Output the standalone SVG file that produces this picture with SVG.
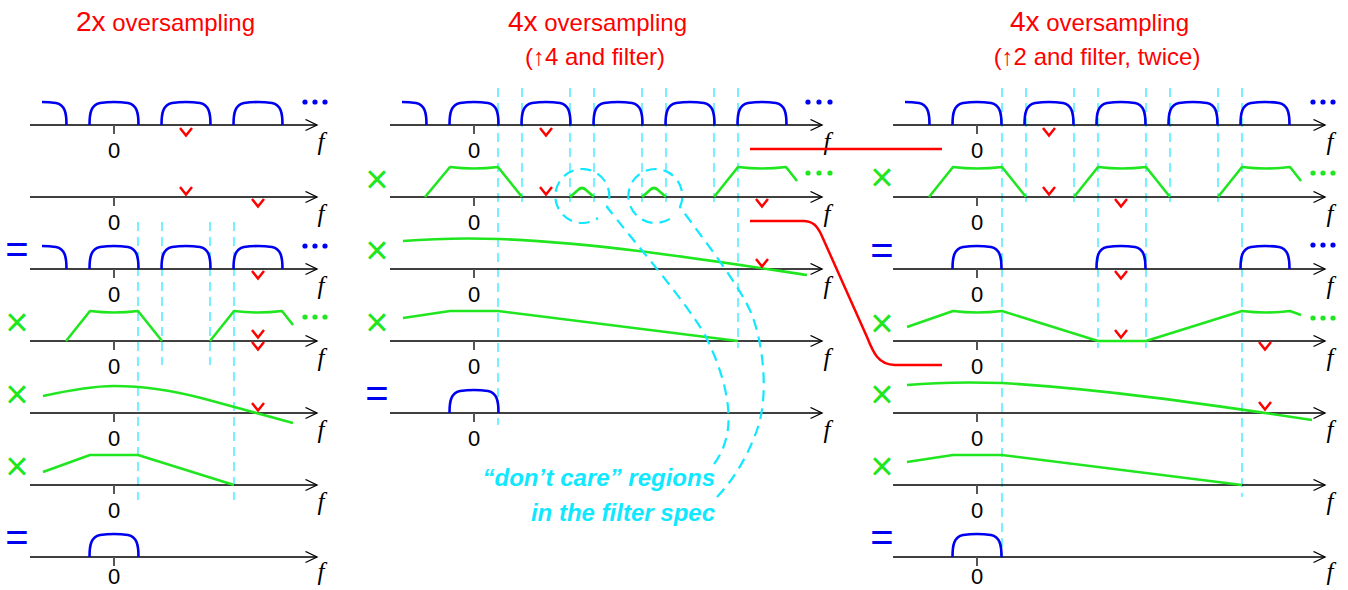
<svg xmlns="http://www.w3.org/2000/svg" xmlns:xlink="http://www.w3.org/1999/xlink" width="1348" height="590" viewBox="0 0 1348 590">
<style>
.t{font-family:"Liberation Sans",Arial,sans-serif;fill:#FF0000}
.st{font-family:"Liberation Sans",Arial,sans-serif;fill:#FF0000;font-size:24px;text-anchor:middle}
.z{font-family:"Liberation Sans",Arial,sans-serif;font-size:22px;text-anchor:middle;fill:#000}
.f{font-family:"Liberation Serif","Times New Roman",serif;font-style:italic;font-size:25px;text-anchor:middle;fill:#000}
.ax{stroke:#000;stroke-width:1.3;fill:none;marker-end:url(#ah)}
.tk{stroke:#555;stroke-width:2}
.gr{fill:none;stroke:#20E620;stroke-width:2.6;stroke-linejoin:round}
.rl{fill:none;stroke:#FF0000;stroke-width:2.5}
.vd{stroke:#55EEFF;stroke-width:1.6;stroke-dasharray:9 6}
.cd{fill:none;stroke:#11E8FF;stroke-width:2.2;stroke-dasharray:11 7}
.x{font-family:"Liberation Sans",Arial,sans-serif;font-size:40px;fill:#20E620;text-anchor:middle}
.eq{font-family:"Liberation Sans",Arial,sans-serif;font-size:40px;fill:#0000F0;text-anchor:middle}
.dc{font-family:"Liberation Sans",Arial,sans-serif;font-weight:bold;font-style:italic;font-size:24px;fill:#11E8FF;text-anchor:end}
.db{fill:#0000F0}
.dg{fill:#20E620}
</style>
<defs>
<marker id="ah" markerWidth="14" markerHeight="14" refX="12" refY="6" orient="auto" markerUnits="userSpaceOnUse"><path d="M0.5,0.5 L12,6 L0.5,11.5" fill="none" stroke="#000" stroke-width="1.3"/></marker>
<path id="h" d="M-24.5,0 C-24.5,-12 -23,-20 -14,-22 Q0,-24 14,-22 C23,-20 24.5,-12 24.5,0" fill="none" stroke="#0000F0" stroke-width="2.6"/>
<path id="hh" d="M0,-23 Q7,-23 14,-22 C23,-20 24.5,-12 24.5,0" fill="none" stroke="#0000F0" stroke-width="2.6"/>
<path id="v" d="M-6,0 L0,7.5 L6,0" fill="none" stroke="#FF0000" stroke-width="2.5"/>
</defs>
<rect width="1348" height="590" fill="#fff"/>

<g id="titles">
<text class="t" x="76" y="31"><tspan font-size="28">2x</tspan><tspan font-size="24"> oversampling</tspan></text>
<text class="t" x="508" y="31"><tspan font-size="28">4x</tspan><tspan font-size="24"> oversampling</tspan></text>
<text class="st" x="595" y="65">(↑4 and filter)</text>
<text class="t" x="1010" y="31"><tspan font-size="28">4x</tspan><tspan font-size="24"> oversampling</tspan></text>
<text class="st" x="1097" y="65">(↑2 and filter, twice)</text>
</g>

<g id="guides">
<line class="vd" x1="138" y1="222" x2="138" y2="500"/>
<line class="vd" x1="162" y1="222" x2="162" y2="365"/>
<line class="vd" x1="210" y1="222" x2="210" y2="365"/>
<line class="vd" x1="234" y1="222" x2="234" y2="500"/>
<line class="vd" x1="498" y1="88" x2="498" y2="425"/>
<line class="vd" x1="522" y1="88" x2="522" y2="208"/>
<line class="vd" x1="570" y1="88" x2="570" y2="208"/>
<line class="vd" x1="594" y1="88" x2="594" y2="208"/>
<line class="vd" x1="642" y1="88" x2="642" y2="208"/>
<line class="vd" x1="666" y1="88" x2="666" y2="208"/>
<line class="vd" x1="714" y1="88" x2="714" y2="208"/>
<line class="vd" x1="738" y1="88" x2="738" y2="348"/>
<line class="vd" x1="1002" y1="88" x2="1002" y2="558"/>
<line class="vd" x1="1026" y1="88" x2="1026" y2="208"/>
<line class="vd" x1="1074" y1="88" x2="1074" y2="208"/>
<line class="vd" x1="1098" y1="88" x2="1098" y2="348"/>
<line class="vd" x1="1146" y1="88" x2="1146" y2="348"/>
<line class="vd" x1="1170" y1="88" x2="1170" y2="208"/>
<line class="vd" x1="1218" y1="88" x2="1218" y2="208"/>
<line class="vd" x1="1242" y1="88" x2="1242" y2="497"/>
</g>

<!-- LEFT COLUMN: 2x oversampling -->
<g id="L1">
<line class="ax" x1="30" y1="125" x2="317" y2="125"/><line class="tk" x1="114" y1="125" x2="114" y2="134"/>
<text class="z" x="114" y="158">0</text><text class="f" x="321" y="150">f</text>
<use href="#hh" x="42" y="125"/><use href="#h" x="114" y="125"/><use href="#h" x="186" y="125"/><use href="#h" x="258" y="125"/>
<circle class="db" cx="305" cy="102" r="2.6"/><circle class="db" cx="315" cy="102" r="2.6"/><circle class="db" cx="325" cy="102" r="2.6"/>
<use href="#v" x="186" y="128"/>
</g>
<g id="L2">
<line class="ax" x1="30" y1="197" x2="317" y2="197"/><line class="tk" x1="114" y1="197" x2="114" y2="206"/>
<text class="z" x="114" y="230">0</text><text class="f" x="321" y="222">f</text>
<use href="#v" x="186" y="187"/><use href="#v" x="258" y="199"/>
</g>
<g id="L3">
<line class="ax" x1="30" y1="269" x2="317" y2="269"/><line class="tk" x1="114" y1="269" x2="114" y2="278"/>
<text class="z" x="114" y="302">0</text><text class="f" x="321" y="294">f</text>
<text class="eq" x="17" y="263">=</text>
<use href="#hh" x="42" y="269"/><use href="#h" x="114" y="269"/><use href="#h" x="186" y="269"/><use href="#h" x="258" y="269"/>
<circle class="db" cx="305" cy="246" r="2.6"/><circle class="db" cx="315" cy="246" r="2.6"/><circle class="db" cx="325" cy="246" r="2.6"/>
<use href="#v" x="258" y="271"/>
</g>
<g id="L4">
<line class="ax" x1="30" y1="341" x2="317" y2="341"/><line class="tk" x1="114" y1="341" x2="114" y2="350"/>
<text class="z" x="114" y="374">0</text><text class="f" x="321" y="366">f</text>
<text class="x" x="17" y="336">×</text>
<path class="gr" d="M66,341 L90,311 Q114,314 138,311 L162,341 M210,341 L234,311 Q258,314 282,311 L293,325"/>
<circle class="dg" cx="305" cy="317" r="2.6"/><circle class="dg" cx="315" cy="317" r="2.6"/><circle class="dg" cx="325" cy="317" r="2.6"/>
<use href="#v" x="258" y="330"/><use href="#v" x="258" y="342"/>
</g>
<g id="L5">
<line class="ax" x1="30" y1="413" x2="317" y2="413"/><line class="tk" x1="114" y1="413" x2="114" y2="422"/>
<text class="z" x="114" y="446">0</text><text class="f" x="321" y="438">f</text>
<text class="x" x="17" y="408">×</text>
<path class="gr" d="M43,396 C75,389 95,386 114,386 C145,386 175,391 205,399 L293,423"/>
<use href="#v" x="258" y="403"/>
</g>
<g id="L6">
<line class="ax" x1="30" y1="485" x2="317" y2="485"/><line class="tk" x1="114" y1="485" x2="114" y2="494"/>
<text class="z" x="114" y="518">0</text><text class="f" x="321" y="510">f</text>
<text class="x" x="17" y="480">×</text>
<path class="gr" d="M43,472 L90,455 L138,455 L234,485"/>
</g>
<g id="L7">
<line class="ax" x1="30" y1="557" x2="317" y2="557"/><line class="tk" x1="114" y1="557" x2="114" y2="566"/>
<text class="z" x="114" y="584">0</text><text class="f" x="321" y="580">f</text>
<text class="eq" x="17" y="551">=</text>
<use href="#h" x="114" y="557"/>
</g>

<!-- MIDDLE COLUMN: 4x, up4 and filter -->
<g id="M1">
<line class="ax" x1="390" y1="125" x2="822" y2="125"/><line class="tk" x1="474" y1="125" x2="474" y2="134"/>
<text class="z" x="474" y="158">0</text><text class="f" x="827" y="150">f</text>
<use href="#hh" x="402" y="125"/><use href="#h" x="474" y="125"/><use href="#h" x="546" y="125"/><use href="#h" x="618" y="125"/><use href="#h" x="690" y="125"/><use href="#h" x="762" y="125"/>
<circle class="db" cx="808" cy="102" r="2.6"/><circle class="db" cx="819" cy="102" r="2.6"/><circle class="db" cx="830" cy="102" r="2.6"/>
<use href="#v" x="546" y="128"/>
</g>
<g id="M2">
<line class="ax" x1="390" y1="197" x2="822" y2="197"/><line class="tk" x1="474" y1="197" x2="474" y2="206"/>
<text class="z" x="474" y="230">0</text><text class="f" x="827" y="222">f</text>
<text class="x" x="377" y="193">×</text>
<path class="gr" d="M425,197 L450,167 Q474,170 498,167 L522,197 M570,197 L578,190 Q582,186 586,190 L594,197 M642,197 L650,190 Q654,186 658,190 L666,197 M714,197 L738,167 Q762,170 786,167 L797,181"/>
<circle class="dg" cx="808" cy="173" r="2.6"/><circle class="dg" cx="819" cy="173" r="2.6"/><circle class="dg" cx="830" cy="173" r="2.6"/>
<use href="#v" x="546" y="187"/><use href="#v" x="762" y="199"/>
</g>
<g id="M3">
<line class="ax" x1="390" y1="269" x2="822" y2="269"/><line class="tk" x1="474" y1="269" x2="474" y2="278"/>
<text class="z" x="474" y="302">0</text><text class="f" x="827" y="294">f</text>
<text class="x" x="377" y="264">×</text>
<path class="gr" d="M403,241 C440,238 470,238 500,239 C600,243 700,259 807,275"/>
<use href="#v" x="762" y="259"/>
</g>
<g id="M4">
<line class="ax" x1="390" y1="341" x2="822" y2="341"/><line class="tk" x1="474" y1="341" x2="474" y2="350"/>
<text class="z" x="474" y="374">0</text><text class="f" x="827" y="366">f</text>
<text class="x" x="377" y="336">×</text>
<path class="gr" d="M403,318 L450,311 L498,311 L738,341"/>
</g>
<g id="M5">
<line class="ax" x1="390" y1="413" x2="822" y2="413"/><line class="tk" x1="474" y1="413" x2="474" y2="422"/>
<text class="z" x="474" y="446">0</text><text class="f" x="827" y="438">f</text>
<text class="eq" x="377" y="407">=</text>
<use href="#h" x="474" y="413"/>
</g>

<!-- RIGHT COLUMN: 4x, up2 and filter twice -->
<g id="R1">
<line class="ax" x1="893" y1="125" x2="1325" y2="125"/><line class="tk" x1="977" y1="125" x2="977" y2="134"/>
<text class="z" x="977" y="158">0</text><text class="f" x="1330" y="150">f</text>
<use href="#hh" x="905" y="125"/><use href="#h" x="977" y="125"/><use href="#h" x="1049" y="125"/><use href="#h" x="1121" y="125"/><use href="#h" x="1193" y="125"/><use href="#h" x="1265" y="125"/>
<circle class="db" cx="1313" cy="102" r="2.6"/><circle class="db" cx="1323" cy="102" r="2.6"/><circle class="db" cx="1333" cy="102" r="2.6"/>
<use href="#v" x="1049" y="128"/>
</g>
<g id="R2">
<line class="ax" x1="893" y1="197" x2="1325" y2="197"/><line class="tk" x1="977" y1="197" x2="977" y2="206"/>
<text class="z" x="977" y="230">0</text><text class="f" x="1330" y="222">f</text>
<text class="x" x="882" y="191">×</text>
<path class="gr" d="M929,197 L953,167 Q977,170 1002,167 L1026,197 M1074,197 L1098,167 Q1122,170 1146,167 L1170,197 M1218,197 L1242,167 Q1266,170 1290,167 L1301,181"/>
<circle class="dg" cx="1313" cy="173" r="2.6"/><circle class="dg" cx="1323" cy="173" r="2.6"/><circle class="dg" cx="1333" cy="173" r="2.6"/>
<use href="#v" x="1049" y="187"/><use href="#v" x="1121" y="199"/>
</g>
<g id="R3">
<line class="ax" x1="893" y1="269" x2="1325" y2="269"/><line class="tk" x1="977" y1="269" x2="977" y2="278"/>
<text class="z" x="977" y="302">0</text><text class="f" x="1330" y="294">f</text>
<text class="eq" x="882" y="264">=</text>
<use href="#h" x="977" y="269"/><use href="#h" x="1121" y="269"/><use href="#h" x="1265" y="269"/>
<circle class="db" cx="1313" cy="245" r="2.6"/><circle class="db" cx="1323" cy="245" r="2.6"/><circle class="db" cx="1333" cy="245" r="2.6"/>
<use href="#v" x="1121" y="271"/>
</g>
<g id="R4">
<line class="ax" x1="893" y1="341" x2="1325" y2="341"/><line class="tk" x1="977" y1="341" x2="977" y2="350"/>
<text class="z" x="977" y="374">0</text><text class="f" x="1330" y="366">f</text>
<text class="x" x="882" y="337">×</text>
<path class="gr" d="M907,327 L953,311 Q977,314 1002,311 L1098,341 L1146,341 L1242,311 Q1266,314 1290,311 L1301,315"/>
<circle class="dg" cx="1313" cy="318" r="2.6"/><circle class="dg" cx="1323" cy="318" r="2.6"/><circle class="dg" cx="1333" cy="318" r="2.6"/>
<use href="#v" x="1121" y="330"/><use href="#v" x="1265" y="342"/>
</g>
<g id="R5">
<line class="ax" x1="893" y1="413" x2="1325" y2="413"/><line class="tk" x1="977" y1="413" x2="977" y2="422"/>
<text class="z" x="977" y="446">0</text><text class="f" x="1330" y="438">f</text>
<text class="x" x="882" y="408">×</text>
<path class="gr" d="M907,385 C940,382 970,382 1002,383 C1100,389 1200,403 1312,420"/>
<use href="#v" x="1265" y="402"/>
</g>
<g id="R6">
<line class="ax" x1="893" y1="485" x2="1325" y2="485"/><line class="tk" x1="977" y1="485" x2="977" y2="494"/>
<text class="z" x="977" y="518">0</text><text class="f" x="1330" y="510">f</text>
<text class="x" x="882" y="480">×</text>
<path class="gr" d="M907,462 L953,455 L1002,455 L1242,485"/>
</g>
<g id="R7">
<line class="ax" x1="893" y1="557" x2="1325" y2="557"/><line class="tk" x1="977" y1="557" x2="977" y2="566"/>
<text class="z" x="977" y="584">0</text><text class="f" x="1330" y="580">f</text>
<text class="eq" x="882" y="551">=</text>
<use href="#h" x="977" y="557"/>
</g>

<g id="connectors">
<path class="rl" d="M750,149 H942"/>
<path class="rl" d="M750,221 H803 C813,221 817,226 821,234 L867,337 C873,352 878,365 895,365 H942"/>
<path class="cd" d="M714,464 C720,456 724,448 727,435 C732,410 725,375 705,335 C685,300 630,237 607,207 A27,27 0 1 0 598,218"/>
<path class="cd" d="M717,497 C735,478 748,455 757,430 C768,400 765,350 752,315 C740,285 700,235 680,207 A27,27 0 1 0 671,218"/>
</g>

<g id="note">
<text class="dc" x="715" y="486">“don’t care” regions</text>
<text class="dc" x="715" y="521">in the filter spec</text>
</g>
</svg>
